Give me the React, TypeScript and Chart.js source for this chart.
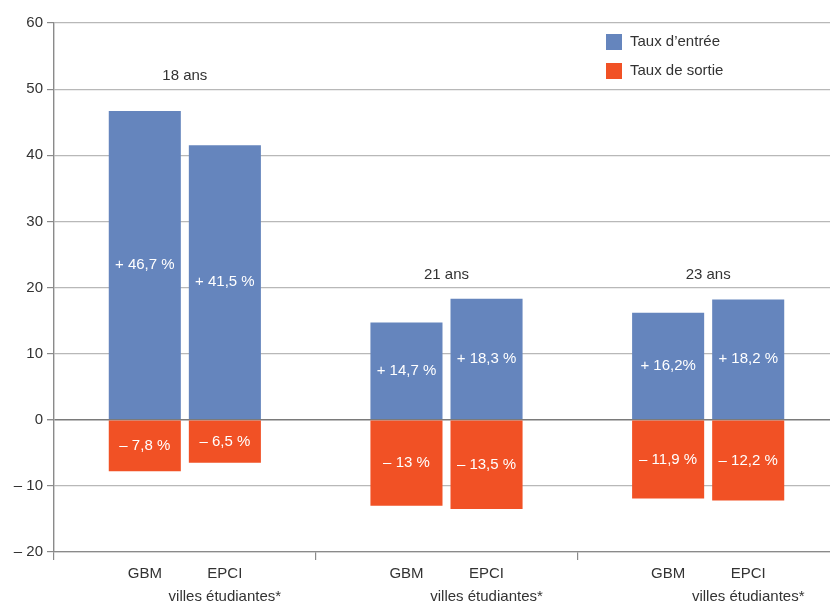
import React, { useEffect, useRef } from 'react';
import { Chart, registerables } from 'chart.js';

Chart.register(...registerables);

// Données
const ageGroups = ['18 ans', '21 ans', '23 ans'];
const zones = ['GBM', 'EPCI'];
const zoneSubLabels = ['', 'villes étudiantes*'];

const entreeGBM = [46.7, 14.7, 16.2];
const entreeEPCI = [41.5, 18.3, 18.2];
const sortieGBM = [-7.8, -13, -11.9];
const sortieEPCI = [-6.5, -13.5, -12.2];

const entreeGBMLabels = ['+ 46,7 %', '+ 14,7 %', '+ 16,2%'];
const entreeEPCILabels = ['+ 41,5 %', '+ 18,3 %', '+ 18,2 %'];
const sortieGBMLabels = ['\u2013 7,8 %', '\u2013 13 %', '\u2013 11,9 %'];
const sortieEPCILabels = ['\u2013 6,5 %', '\u2013 13,5 %', '\u2013 12,2 %'];

const legendLabels = ['Taux d\u2019entrée', 'Taux de sortie'];

const BLUE = '#6585bd';
const ORANGE = '#f15125';
const TEXT = '#333333';
const FONT = '"Liberation Sans", Arial, sans-serif';

const annotations = {
    id: 'annotations',
    afterDatasetsDraw(chart: any) {
        const { ctx, chartArea, scales } = chart;
        const x = scales.x;
        const y = scales.y;
        ctx.save();
        ctx.font = `15px ${FONT}`;
        ctx.textAlign = 'center';
        ctx.textBaseline = 'middle';

        // valeurs dans les barres
        chart.data.datasets.forEach((ds: any, di: number) => {
            const meta = chart.getDatasetMeta(di);
            meta.data.forEach((bar: any, i: number) => {
                ctx.fillStyle = '#ffffff';
                ctx.fillText(ds.valueLabels[i], bar.x, (bar.y + bar.base) / 2);
            });
        });

        // libellés des âges au-dessus des groupes
        ctx.fillStyle = TEXT;
        ageGroups.forEach((age, i) => {
            const top = Math.max(entreeGBM[i], entreeEPCI[i]);
            const v = Math.ceil(top / 10) * 10;
            ctx.fillText(age, x.getPixelForValue(i), y.getPixelForValue(v) - 13);
        });

        // libellés sous chaque barre
        [0, 1].forEach((di) => {
            const meta = chart.getDatasetMeta(di);
            meta.data.forEach((bar: any) => {
                ctx.fillText(zones[di], bar.x, chartArea.bottom + 22);
                if (zoneSubLabels[di]) {
                    ctx.fillText(zoneSubLabels[di], bar.x, chartArea.bottom + 45);
                }
            });
        });

        // légende
        const colors = [BLUE, ORANGE];
        ctx.textAlign = 'left';
        legendLabels.forEach((lab, i) => {
            const ly = 42 + i * 29;
            ctx.fillStyle = colors[i];
            ctx.fillRect(606, ly - 8, 16, 16);
            ctx.fillStyle = TEXT;
            ctx.fillText(lab, 630, ly);
        });
        ctx.restore();
    },
};

const App: React.FC = () => {
    const chartRef = useRef<HTMLCanvasElement>(null);
    const chartInstanceRef = useRef<Chart | null>(null);

    useEffect(() => {
        if (!chartRef.current) return;
        if (chartInstanceRef.current) {
            chartInstanceRef.current.destroy();
        }
        const ctx = chartRef.current.getContext('2d');
        if (!ctx) return;

        Chart.defaults.font.family = FONT;

        const common = {
            categoryPercentage: 0.612,
            barPercentage: 0.9,
            borderWidth: 0,
        };

        chartInstanceRef.current = new Chart(ctx, {
            type: 'bar',
            data: {
                labels: ageGroups,
                datasets: [
                    { label: 'Taux d\u2019entrée GBM', data: entreeGBM, backgroundColor: BLUE, stack: 'GBM', valueLabels: entreeGBMLabels, ...common } as any,
                    { label: 'Taux d\u2019entrée EPCI', data: entreeEPCI, backgroundColor: BLUE, stack: 'EPCI', valueLabels: entreeEPCILabels, ...common } as any,
                    { label: 'Taux de sortie GBM', data: sortieGBM, backgroundColor: ORANGE, stack: 'GBM', valueLabels: sortieGBMLabels, ...common } as any,
                    { label: 'Taux de sortie EPCI', data: sortieEPCI, backgroundColor: ORANGE, stack: 'EPCI', valueLabels: sortieEPCILabels, ...common } as any,
                ],
            },
            options: {
                responsive: true,
                maintainAspectRatio: false,
                animation: false,
                layout: { padding: { top: 23, left: 0, right: 0, bottom: 0 } },
                plugins: {
                    legend: { display: false },
                    tooltip: { enabled: false },
                },
                scales: {
                    x: {
                        stacked: true,
                        ticks: { display: false },
                        grid: {
                            offset: true,
                            drawOnChartArea: false,
                            drawTicks: true,
                            tickLength: 8,
                            color: '#8a8a8a',
                            lineWidth: 1.2,
                        },
                        border: { display: true, color: '#8a8a8a', width: 1.2 },
                        afterFit: (scale: any) => {
                            scale.height = 51;
                        },
                    },
                    y: {
                        stacked: true,
                        min: -20,
                        max: 60,
                        ticks: {
                            stepSize: 10,
                            color: TEXT,
                            padding: 4,
                            font: { size: 15 },
                            callback: (value: any) => (value < 0 ? `\u2013 ${Math.abs(value)}` : `${value}`),
                        },
                        grid: {
                            color: (c: any) => (c.tick && c.tick.value === 0 ? '#7a7a7a' : '#b8b8b8'),
                            lineWidth: (c: any) => (c.tick && c.tick.value === 0 ? 1.4 : 1.2),
                            tickColor: '#8a8a8a',
                            tickLength: 7,
                        },
                        border: { display: true, color: '#8a8a8a', width: 1.4 },
                        afterFit: (scale: any) => {
                            scale.width = 54;
                        },
                    },
                },
            },
            plugins: [annotations],
        });

        return () => {
            if (chartInstanceRef.current) {
                chartInstanceRef.current.destroy();
                chartInstanceRef.current = null;
            }
        };
    }, []);

    return (
        <div style={{ position: 'fixed', left: 0, top: 0, width: 830, height: 603, overflow: 'hidden', background: '#fff' }}>
            <div style={{ width: 839, height: 603, position: 'relative' }}>
                <canvas ref={chartRef} />
            </div>
        </div>
    );
};

export default App;
